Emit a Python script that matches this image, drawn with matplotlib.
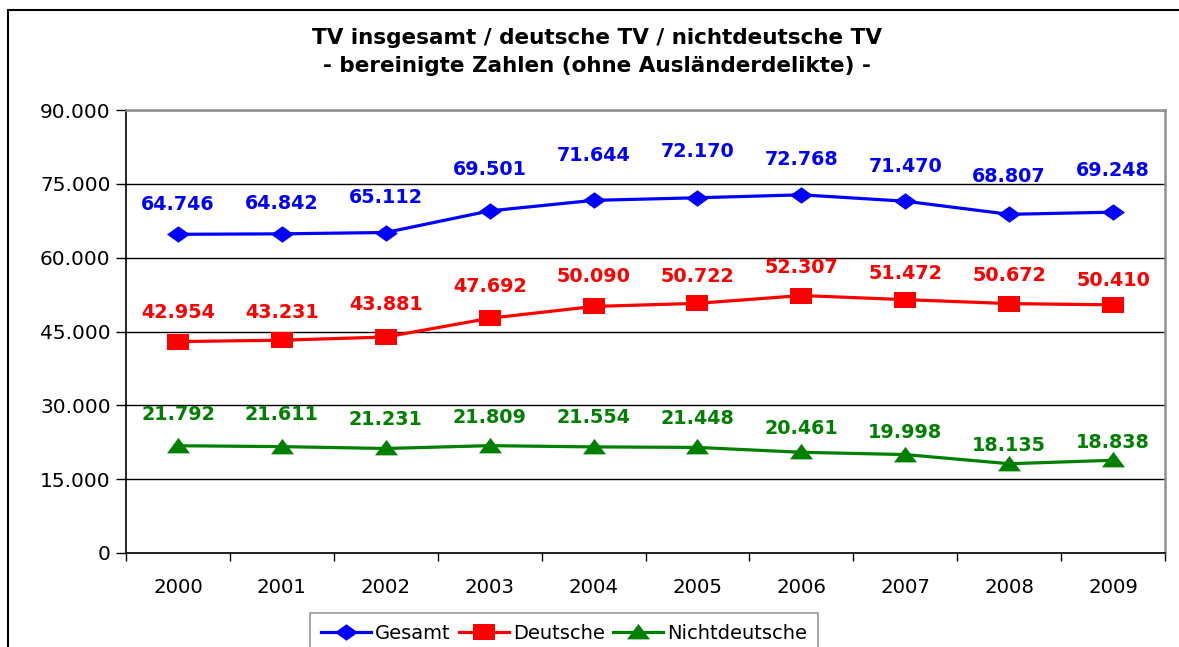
import numpy as np
import matplotlib
matplotlib.use("Agg")
import matplotlib.pyplot as plt
from matplotlib.path import Path
from matplotlib.patches import Rectangle
from matplotlib.ticker import FuncFormatter, FixedLocator

years = ["2000", "2001", "2002", "2003", "2004", "2005", "2006", "2007", "2008", "2009"]
gesamt = [64746, 64842, 65112, 69501, 71644, 72170, 72768, 71470, 68807, 69248]
deutsche = [42954, 43231, 43881, 47692, 50090, 50722, 52307, 51472, 50672, 50410]
nichtdeutsche = [21792, 21611, 21231, 21809, 21554, 21448, 20461, 19998, 18135, 18838]

# label offsets above the points (pixels), as placed in the original chart
gesamt_dy = [30, 30, 35, 41, 45, 46, 35, 35, 38, 42]
deutsche_dy = [29, 28, 33, 32, 30, 27, 28, 26, 28, 24]
nichtdeutsche_dy = [31, 32, 29, 28, 29, 29, 24, 22, 18, 18]

W, H = 1179, 647
fig = plt.figure(figsize=(W / 100, H / 100), dpi=100)
ax = fig.add_axes([126 / W, (H - 553) / H, (1165 - 126) / W, (553 - 110) / H])

# wide diamond / square / triangle like the stretched excel markers
diamond = Path([(-1, 0), (0, 0.72), (1, 0), (0, -0.72), (-1, 0)],
               [Path.MOVETO, Path.LINETO, Path.LINETO, Path.LINETO, Path.CLOSEPOLY])
square = Path([(-1, -0.68), (1, -0.68), (1, 0.68), (-1, 0.68), (-1, -0.68)],
              [Path.MOVETO, Path.LINETO, Path.LINETO, Path.LINETO, Path.CLOSEPOLY])
triangle = Path([(-1, -0.6), (1, -0.6), (0, 0.75), (-1, -0.6)],
                [Path.MOVETO, Path.LINETO, Path.LINETO, Path.CLOSEPOLY])

x = np.arange(len(years))
series = [
    ("Gesamt", gesamt, gesamt_dy, "#0000FF", diamond),
    ("Deutsche", deutsche, deutsche_dy, "#FF0000", square),
    ("Nichtdeutsche", nichtdeutsche, nichtdeutsche_dy, "#008000", triangle),
]

for name, vals, dys, col, mk in series:
    ax.plot(x, vals, color=col, lw=2.3, marker=mk, markersize=16.5,
            markeredgewidth=0, label=name, zorder=3)
    for i, v in enumerate(vals):
        ax.annotate(f"{v:,}".replace(",", "."), (i, v), xytext=(0, dys[i] * 0.72),
                    textcoords="offset points", ha="center", va="center",
                    color=col, fontsize=13.8, fontweight="bold", zorder=4)

ax.set_xlim(-0.5, len(years) - 0.5)
ax.set_ylim(0, 90000)
ax.yaxis.set_major_locator(FixedLocator(np.arange(0, 90001, 15000)))
ax.yaxis.set_major_formatter(FuncFormatter(lambda v, p: "0" if v == 0 else f"{int(v):,}".replace(",", ".")))
ax.grid(axis="y", color="black", lw=1.0, zorder=1)
ax.set_axisbelow(True)

ax.set_xticks(x)
ax.set_xticklabels(years)
ax.set_xticks(np.arange(-0.5, len(years), 1), minor=True)
ax.tick_params(axis="x", which="major", length=0, pad=18, labelsize=14.2)
ax.tick_params(axis="x", which="minor", length=6, width=1, direction="out")
ax.tick_params(axis="y", length=7, width=1, direction="out", pad=4, labelsize=14.5)

for s in ["left", "bottom"]:
    ax.spines[s].set_color("black")
    ax.spines[s].set_linewidth(1.2)
for s in ["top", "right"]:
    ax.spines[s].set_color("#909090")
    ax.spines[s].set_linewidth(1.8)

fig.text(597 / W, 1 - 38 / H, "TV insgesamt / deutsche TV / nichtdeutsche TV",
         ha="center", va="center", fontsize=15.5, fontweight="bold")
fig.text(597 / W, 1 - 66 / H, "- bereinigte Zahlen (ohne Ausländerdelikte) -",
         ha="center", va="center", fontsize=15.5, fontweight="bold")

leg = fig.legend(loc="upper center", bbox_to_anchor=(564 / W, 1 - 613 / H), ncol=3,
                 frameon=True, fancybox=False, fontsize=14, handlelength=2.6,
                 handletextpad=0.2, columnspacing=0.4, borderpad=0.55, borderaxespad=0)
leg.get_frame().set_edgecolor("#808080")
leg.get_frame().set_linewidth(1.2)

fig.add_artist(Rectangle((8 / W, -0.1), 1.2, 1 - 10 / H + 0.1, transform=fig.transFigure,
                         fill=False, ec="black", lw=1.5))

fig.savefig("out.png", dpi=100)
